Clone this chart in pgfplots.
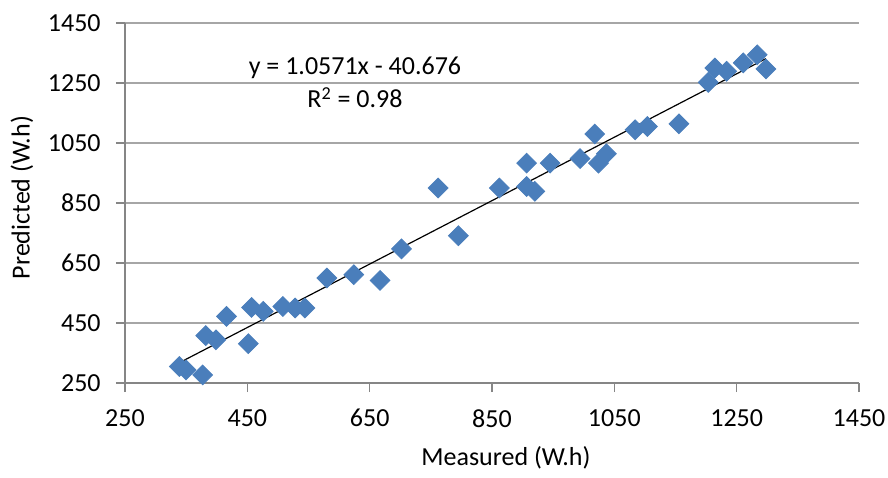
\documentclass[border=0pt]{standalone}
\usepackage{fontspec}
\setmainfont{Carlito}
\usepackage{pgfplots}
\pgfplotsset{compat=1.18}
\definecolor{mk}{HTML}{4A7EBB}
\definecolor{gridc}{HTML}{A6A6A6}
\definecolor{axc}{HTML}{868686}

\pgfplotstableread{
x y
338.8 305
349.7 294
377 277
382 408
398.7 394
416 472
451.6 381
457 502
476 489
508 505
528 500
544 500
580 600
624 611
667 592
702 697
762 900
795 741
862 900
906.6 983
906.6 905
920 889
945 983
994 998
1018 1080
1024 983
1037 1014
1084 1094
1104 1105
1155.6 1114
1203.6 1252
1214.5 1300
1233.6 1289
1260.7 1317
1283.6 1344
1297.8 1297
}\measured

\begin{document}
\fontsize{13bp}{15bp}\selectfont
\begin{tikzpicture}
\begin{axis}[
    scale only axis,
    width=367bp, height=180bp,
    xmin=250, xmax=1450,
    ymin=250, ymax=1450,
    xtick={250,450,...,1450},
    ytick={250,450,...,1450},
    axis lines*=left,
    axis line style={axc, line width=0.8pt},
    ymajorgrids,
    grid style={gridc, line width=0.8pt},
    tick align=outside,
    major tick length=4.5bp,
    tick style={axc, line width=0.6pt},
    /pgf/number format/assume math mode=true,
    /pgf/number format/1000 sep={},
    ticklabel style={font=\fontsize{13bp}{15bp}\selectfont, inner sep=1bp},
    xticklabel style={yshift=-7.5bp},
    yticklabel style={xshift=-6.5bp},
    xlabel={Measured (W.h)},
    ylabel={Predicted (W.h)},
    xlabel style={at={(axis description cs:0.519,0)}, anchor=center, yshift=-37.5bp},
    ylabel style={at={(axis description cs:0,0.515)}, anchor=center, yshift=51.5bp},
    clip=false,
]
\addplot[only marks, mark=square*, mark size=3.5bp,
    mark options={rotate=45, fill=mk, draw=mk}] table {\measured};
\addplot[black, line width=0.6pt] coordinates {(338.8,317.5) (1297.8,1331.2)};
\node at (axis cs:626,1301) {y = 1.0571x - 40.676};
\node at (axis cs:626,1201) {R\textsuperscript{2} = 0.98};
\coordinate (bl) at (rel axis cs:0,0);
\coordinate (tr) at (rel axis cs:1,1);
\end{axis}
\path ([shift={(-62.5bp,-42.5bp)}]bl) rectangle ([shift={(14.5bp,11.5bp)}]tr);
\end{tikzpicture}
\end{document}
